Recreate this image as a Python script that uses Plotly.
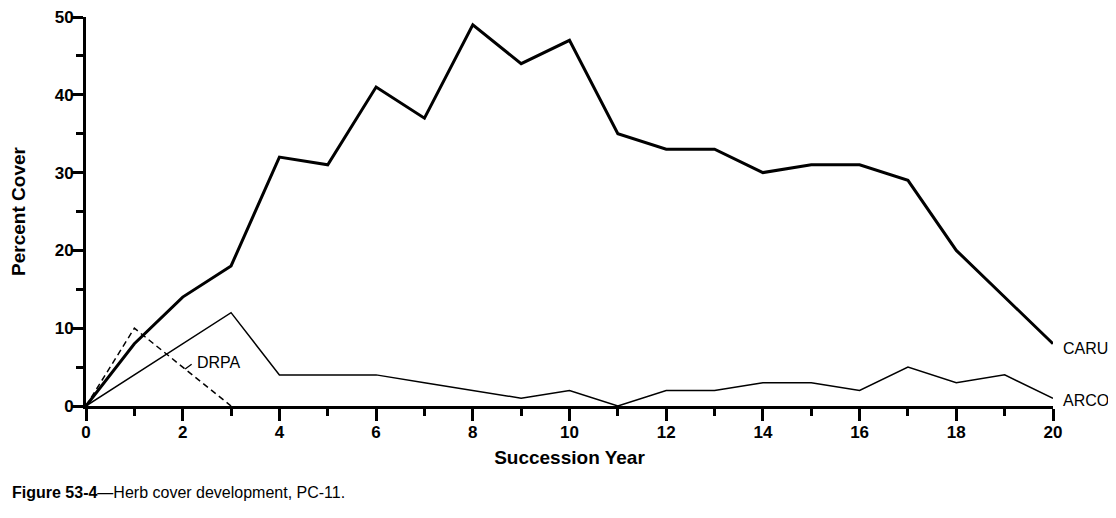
import plotly.graph_objects as go

years = list(range(0, 21))
caru = [0, 8, 14, 18, 32, 31, 41, 37, 49, 44, 47, 35, 33, 33, 30, 31, 31, 29, 20, 14, 8]
arco = [0, 4, 8, 12, 4, 4, 4, 3, 2, 1, 2, 0, 2, 2, 3, 3, 2, 5, 3, 4, 1]
drpa_years = [0, 1, 2, 3]
drpa = [0, 10, 5, 0]

x_ticks = list(range(0, 21, 2))
y_ticks = list(range(0, 51, 10))

FONT = "Liberation Sans"

fig = go.Figure()
fig.add_trace(go.Scatter(x=years, y=caru, mode="lines", name="CARU",
                         line=dict(color="black", width=3), cliponaxis=False))
fig.add_trace(go.Scatter(x=years, y=arco, mode="lines", name="ARCO",
                         line=dict(color="black", width=1.5), cliponaxis=False))
fig.add_trace(go.Scatter(x=drpa_years, y=drpa, mode="lines", name="DRPA",
                         line=dict(color="black", width=1.5, dash="6px,4px"), cliponaxis=False))

axis_common = dict(
    showgrid=False, zeroline=False, showline=True, linecolor="black", linewidth=3,
    ticks="outside", ticklen=12, tickwidth=2.5, tickcolor="black", automargin=False,
    ticklabeloverflow="allow",
    tickfont=dict(family=FONT, size=17, color="black", weight="bold"),
)

fig.update_xaxes(
    range=[0, 20], tickmode="array", tickvals=x_ticks,
    ticktext=[str(v) for v in x_ticks], ticklabelstandoff=-3,
    minor=dict(dtick=1, ticks="outside", ticklen=7, tickwidth=2.5, tickcolor="black"),
    title=dict(text="Succession Year", font=dict(family=FONT, size=19, color="black", weight="bold"), standoff=10),
    **axis_common,
)
fig.update_yaxes(
    range=[0, 50], tickmode="array", tickvals=y_ticks,
    ticktext=[str(v) for v in y_ticks], ticklabelstandoff=-6,
    minor=dict(dtick=5, ticks="outside", ticklen=7, tickwidth=2.5, tickcolor="black"),
    title=dict(text="Percent Cover", font=dict(family=FONT, size=19, color="black", weight="bold"), standoff=25),
    **axis_common,
)

label_font = dict(family=FONT, size=16, color="black")
fig.add_annotation(x=20, y=caru[-1], text="CARU", showarrow=False, xanchor="left",
                   xshift=8, yshift=-4.5, font=label_font)
fig.add_annotation(x=20, y=arco[-1], text="ARCO", showarrow=False, xanchor="left",
                   xshift=8, yshift=-2, font=label_font)
fig.add_annotation(x=2.25, y=5.6, text="DRPA", showarrow=False, xanchor="left",
                   font=label_font)
fig.add_annotation(x=2.05, y=4.75, text="", showarrow=True, arrowhead=0,
                   arrowwidth=1.3, arrowcolor="black", ax=8, ay=-6)

fig.add_annotation(xref="paper", yref="paper", x=-0.0786, y=-0.222,
                   xanchor="left", yanchor="middle", showarrow=False,
                   text="<b>Figure 53-4</b>\u2014Herb cover development, PC-11.",
                   font=dict(family=FONT, size=16, color="black"))

fig.update_layout(
    width=1100, height=502,
    margin=dict(l=78, r=55, t=9, b=104),
    plot_bgcolor="white", paper_bgcolor="white",
    showlegend=False,
    font=dict(family=FONT, color="black"),
)

fig.write_html("out.html")
